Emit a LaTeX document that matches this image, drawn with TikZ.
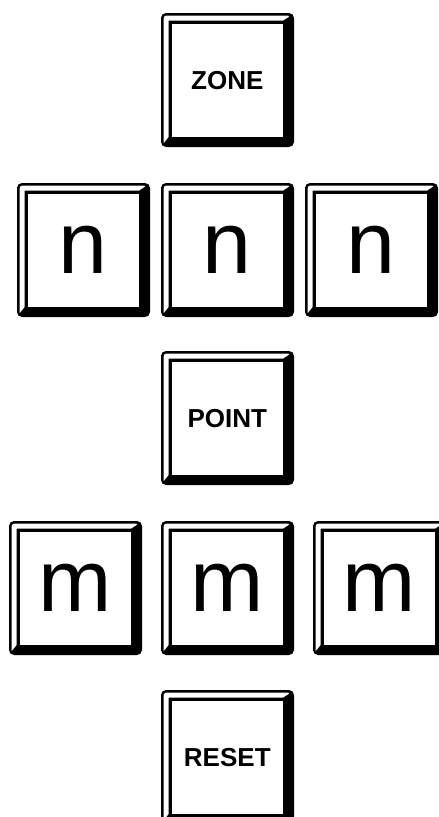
\documentclass[tikz,border=0pt]{standalone}
\usepackage{fontspec}
\setmainfont{Liberation Sans}
\tikzset{
  keyfont/.style={font=\fontsize{26}{26}\selectfont\bfseries, inner sep=0pt},
  bigfont/.style={font=\fontsize{88}{88}\selectfont, inner sep=0pt},
  capbody/.style={fill=black, rounded corners=5pt},
  capbevel/.style={fill=white},
  capface/.style={fill=white},
}
% #1 name, #2 x, #3 y (top-left, pixels), #4 style, #5 text
\newcommand\keycap[5]{%
  \begin{scope}[shift={(#2,#3)}]
    \path[capbody] (0,0) rectangle (133,134);
    \path[capbevel] (2.7,130) [rounded corners=2.5pt] -- (2.7,2.7) -- (129.5,2.7) [sharp corners] -- (122,7.6) -- (7.6,7.6) -- (7.6,124) -- cycle;
    \path[capface] (10.6,10.6) rectangle (122,124);
    \node[#4] (#1) at (66.3,67.3) {#5};
  \end{scope}}
\begin{document}
\begin{tikzpicture}[x=1pt,y=-1pt]
  \clip (0,0) rectangle (439,817);
  \fill[white] (0,0) rectangle (439,817);
  \keycap{zone}{161}{13}{keyfont}{ZONE}
  \keycap{n1}{17}{183}{bigfont}{n}
  \keycap{n2}{161}{183}{bigfont}{n}
  \keycap{n3}{305}{183}{bigfont}{n}
  \keycap{point}{161}{351}{keyfont}{POINT}
  \keycap{m1}{9}{521}{bigfont}{m}
  \keycap{m2}{161}{521}{bigfont}{m}
  \keycap{m3}{313}{521}{bigfont}{m}
  \keycap{reset}{161}{690}{keyfont}{RESET}
\end{tikzpicture}
\end{document}
